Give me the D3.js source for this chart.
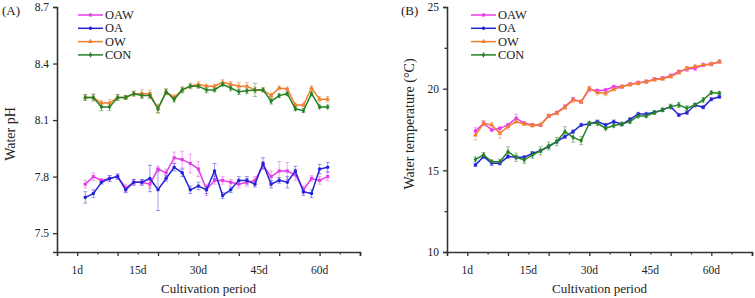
<!DOCTYPE html>
<html>
<head>
<meta charset="utf-8">
<script src="https://cdn.jsdelivr.net/npm/d3@7"></script>
<style>
  body { margin: 0; background: #fff; }
  svg { display: block; font-family: "Liberation Serif", "Times New Roman", serif; }
</style>
</head>
<body>
<svg id="chart" width="755" height="298"></svg>
<script>
//
// Data
//

// sampling day of each point
var days = [2, 4, 6, 8, 10, 12, 14, 16, 18, 20, 22, 24, 26, 28, 30, 32, 34, 36, 38, 40, 42, 44, 46, 48, 50, 52, 54, 56, 58, 60, 62]
var groups = ['OAW', 'OA', 'OW', 'CON']

var xTickLabels = ['1d', '15d', '30d', '45d', '60d']
var xTickDays = [0, 15, 30, 45, 60]
var phTicks = [7.5, 7.8, 8.1, 8.4, 8.7]
var tempTicks = [10, 15, 20, 25]
var tempMinorTicks = [12.5, 17.5, 22.5]

// (A) water pH
var phOAW = [7.76, 7.80, 7.78, 7.79, 7.80, 7.74, 7.77, 7.77, 7.76, 7.84, 7.82, 7.90, 7.89, 7.87, 7.84, 7.73, 7.78, 7.78, 7.77, 7.76, 7.77, 7.78, 7.86, 7.80, 7.83, 7.83, 7.81, 7.73, 7.79, 7.78, 7.80]
var phOA = [7.69, 7.71, 7.77, 7.79, 7.80, 7.73, 7.77, 7.77, 7.79, 7.73, 7.79, 7.85, 7.82, 7.73, 7.75, 7.73, 7.83, 7.70, 7.73, 7.78, 7.78, 7.76, 7.87, 7.76, 7.78, 7.77, 7.83, 7.72, 7.71, 7.84, 7.85]
var phOW = [8.22, 8.22, 8.19, 8.19, 8.22, 8.22, 8.24, 8.24, 8.24, 8.16, 8.25, 8.22, 8.26, 8.28, 8.29, 8.28, 8.28, 8.30, 8.29, 8.28, 8.28, 8.26, 8.26, 8.23, 8.27, 8.265, 8.18, 8.18, 8.27, 8.21, 8.21]
var phCON = [8.22, 8.22, 8.17, 8.17, 8.22, 8.22, 8.24, 8.23, 8.23, 8.16, 8.25, 8.21, 8.26, 8.28, 8.28, 8.26, 8.26, 8.29, 8.27, 8.25, 8.255, 8.26, 8.26, 8.20, 8.23, 8.24, 8.16, 8.15, 8.24, 8.17, 8.17]

var phOAWsd = [0.02, 0.02, 0.01, 0.015, 0.01, 0.02, 0.015, 0.015, 0.02, 0.015, 0.02, 0.03, 0.045, 0.05, 0.04, 0.03, 0.02, 0.02, 0.015, 0.02, 0.02, 0.02, 0.02, 0.03, 0.05, 0.045, 0.03, 0.02, 0.015, 0.02, 0.02]
var phOAsd = [0.03, 0.02, 0.01, 0.015, 0.015, 0.015, 0.015, 0.015, 0.07, 0.11, 0.015, 0.02, 0.02, 0.02, 0.02, 0.02, 0.04, 0.015, 0.015, 0.02, 0.02, 0.015, 0.03, 0.02, 0.015, 0.03, 0.025, 0.02, 0.02, 0.025, 0.025]
var phOWsd = [0.015, 0.02, 0.015, 0.02, 0.015, 0.01, 0.015, 0.02, 0.02, 0.025, 0.015, 0.015, 0.015, 0.015, 0.015, 0.01, 0.01, 0.015, 0.015, 0.02, 0.02, 0.015, 0.01, 0.01, 0.01, 0.01, 0.01, 0.01, 0.01, 0.015, 0.015]
var phCONsd = [0.015, 0.015, 0.02, 0.02, 0.015, 0.01, 0.01, 0.015, 0.015, 0.02, 0.015, 0.015, 0.015, 0.01, 0.01, 0.015, 0.01, 0.01, 0.015, 0.015, 0.015, 0.035, 0.01, 0.015, 0.01, 0.01, 0.01, 0.01, 0.01, 0.01, 0.01]

// (B) water temperature
var tOAW = [17.41, 17.88, 17.47, 17.57, 17.78, 18.19, 17.88, 17.78, 17.78, 18.33, 18.53, 18.90, 19.35, 19.20, 19.96, 19.88, 19.92, 20.12, 20.12, 20.27, 20.37, 20.43, 20.58, 20.64, 20.80, 21.04, 21.20, 21.25, 21.45, 21.51, 21.65]
var tOA = [15.33, 15.84, 15.43, 15.43, 15.84, 15.80, 15.80, 16.04, 16.20, 16.45, 16.76, 17.06, 17.37, 17.78, 17.84, 17.98, 17.78, 17.98, 17.82, 18.12, 18.45, 18.45, 18.55, 18.70, 18.90, 18.39, 18.53, 19.00, 18.86, 19.35, 19.51]
var tOW = [17.16, 17.88, 17.78, 17.27, 17.67, 17.98, 17.84, 17.74, 17.78, 18.33, 18.50, 18.86, 19.30, 19.20, 20.02, 19.76, 19.72, 19.96, 20.12, 20.25, 20.33, 20.43, 20.55, 20.60, 20.74, 20.98, 21.25, 21.35, 21.45, 21.51, 21.65]
var tCON = [15.67, 15.94, 15.53, 15.53, 16.14, 15.80, 15.63, 15.94, 16.20, 16.49, 16.76, 17.37, 17.02, 16.82, 17.88, 17.88, 17.57, 17.74, 17.84, 17.98, 18.33, 18.33, 18.53, 18.70, 18.90, 19.00, 18.80, 19.00, 19.31, 19.76, 19.72]

var tOAWsd = [0.2, 0.15, 0.1, 0.1, 0.1, 0.25, 0.1, 0.1, 0.1, 0.1, 0.1, 0.1, 0.1, 0.1, 0.15, 0.1, 0.1, 0.1, 0.1, 0.1, 0.1, 0.1, 0.1, 0.1, 0.1, 0.1, 0.15, 0.15, 0.1, 0.1, 0.1]
var tOAsd = [0.1, 0.1, 0.15, 0.1, 0.1, 0.1, 0.1, 0.1, 0.1, 0.1, 0.1, 0.1, 0.1, 0.1, 0.1, 0.1, 0.1, 0.1, 0.1, 0.1, 0.1, 0.1, 0.1, 0.1, 0.1, 0.1, 0.1, 0.1, 0.1, 0.1, 0.1]
var tOWsd = [0.3, 0.15, 0.15, 0.3, 0.15, 0.1, 0.1, 0.1, 0.1, 0.1, 0.1, 0.15, 0.15, 0.1, 0.1, 0.15, 0.15, 0.1, 0.1, 0.1, 0.1, 0.1, 0.1, 0.1, 0.1, 0.1, 0.1, 0.1, 0.1, 0.1, 0.1]
var tCONsd = [0.15, 0.15, 0.1, 0.15, 0.3, 0.25, 0.2, 0.2, 0.25, 0.25, 0.25, 0.3, 0.3, 0.25, 0.1, 0.15, 0.1, 0.1, 0.1, 0.1, 0.1, 0.1, 0.1, 0.1, 0.15, 0.15, 0.15, 0.1, 0.15, 0.1, 0.1]

//
// Styles
//

var colors = { OAW: '#e63ee6', OA: '#2424d8', OW: '#f27e2e', CON: '#258226' }
var symbols = { OAW: d3.symbolSquare, OA: d3.symbolCircle, OW: d3.symbolTriangle, CON: d3.symbolDiamond }
var axisColor = '#333'

var svg = d3.select('#chart')

function drawPanel(p) {
  var g = svg.append('g')
  var x = d3.scaleLinear().domain([-5, 70]).range([p.left, p.right])
  var y = d3.scaleLinear().domain(p.yDomain).range([252, 7])

  // axes
  var yAxis = d3.axisLeft(y).tickValues(p.yTicks).tickSize(4).tickPadding(4)
    .tickFormat(p.yFormat)
  var gy = g.append('g').attr('transform', 'translate(' + p.left + ',0)').call(yAxis)
  if (p.yMinor) {
    g.append('g').attr('transform', 'translate(' + p.left + ',0)')
      .call(d3.axisLeft(y).tickValues(p.yMinor).tickSize(2.5).tickFormat(''))
      .select('.domain').remove()
  }
  g.append('g').attr('transform', 'translate(0,252)')
    .call(d3.axisBottom(x).tickValues([0, 10, 20, 30, 40, 50, 60, 70]).tickSize(4).tickFormat(''))
  g.append('g').attr('transform', 'translate(0,252)')
    .call(d3.axisBottom(x).tickValues([5, 15, 25, 35, 45, 55, 65]).tickSize(2.5).tickFormat(''))
    .select('.domain').remove()
  g.selectAll('.domain').attr('stroke', axisColor).attr('stroke-width', 1.6)
  g.selectAll('.tick line').attr('stroke', axisColor).attr('stroke-width', 1.3)
  gy.selectAll('.tick text').attr('font-size', 11.5).attr('font-family', 'Liberation Serif').attr('fill', '#222')

  g.selectAll('.xlab').data(xTickDays).enter().append('text')
    .attr('x', function(d) { return x(d) })
    .attr('y', 274)
    .attr('text-anchor', 'middle')
    .attr('font-size', 11.5)
    .attr('fill', '#222')
    .text(function(d, i) { return xTickLabels[i] })

  g.append('text')
    .attr('x', (p.left + p.right) / 2)
    .attr('y', 293)
    .attr('text-anchor', 'middle')
    .attr('font-size', 13)
    .attr('fill', '#222')
    .text('Cultivation period')

  g.append('text')
    .attr('transform', 'translate(' + p.titleX + ',' + p.titleY + ') rotate(-90)')
    .attr('text-anchor', 'middle')
    .attr('font-size', 14)
    .attr('fill', '#222')
    .text(p.yTitle)

  g.append('text')
    .attr('x', p.tagX)
    .attr('y', 15)
    .attr('font-size', 13)
    .attr('fill', '#222')
    .text(p.tag)

  // error bars
  groups.forEach(function(k) {
    var vals = p.values[k], sds = p.sds[k]
    var eb = g.append('g').attr('stroke', colors[k]).attr('stroke-opacity', 0.45).attr('stroke-width', 1)
    days.forEach(function(d, i) {
      var cx = x(d), y0 = y(vals[i] - sds[i]), y1 = y(vals[i] + sds[i])
      eb.append('line').attr('x1', cx).attr('x2', cx).attr('y1', y0).attr('y2', y1)
      eb.append('line').attr('x1', cx - 2).attr('x2', cx + 2).attr('y1', y0).attr('y2', y0)
      eb.append('line').attr('x1', cx - 2).attr('x2', cx + 2).attr('y1', y1).attr('y2', y1)
    })
  })

  // lines and markers
  var line = d3.line().x(function(d) { return x(d[0]) }).y(function(d) { return y(d[1]) })
  groups.forEach(function(k) {
    var pts = days.map(function(d, i) { return [d, p.values[k][i]] })
    g.append('path')
      .attr('d', line(pts))
      .attr('fill', 'none')
      .attr('stroke', colors[k])
      .attr('stroke-width', 1.5)
    g.selectAll('.m' + k).data(pts).enter().append('path')
      .attr('transform', function(d) { return 'translate(' + x(d[0]) + ',' + y(d[1]) + ')' })
      .attr('d', d3.symbol().type(symbols[k]).size(10))
      .attr('fill', colors[k])
  })

  // legend
  var lg = g.append('g')
  groups.forEach(function(k, i) {
    var ly = 15 + i * 13.3
    lg.append('line').attr('x1', p.legendX).attr('x2', p.legendX + 25)
      .attr('y1', ly).attr('y2', ly).attr('stroke', colors[k]).attr('stroke-width', 1.5)
    lg.append('path').attr('transform', 'translate(' + (p.legendX + 12.5) + ',' + ly + ')')
      .attr('d', d3.symbol().type(symbols[k]).size(10)).attr('fill', colors[k])
    lg.append('text').attr('x', p.legendX + 27).attr('y', ly + 4)
      .attr('font-size', 12.5).attr('fill', '#222').text(k)
  })
}

drawPanel({
  left: 57, right: 360,
  yDomain: [7.4, 8.7], yTicks: phTicks, yFormat: d3.format('.1f'),
  yTitle: 'Water pH', titleX: 15, titleY: 134,
  tag: '(A)', tagX: 2, legendX: 78,
  values: { OAW: phOAW, OA: phOA, OW: phOW, CON: phCON },
  sds: { OAW: phOAWsd, OA: phOAsd, OW: phOWsd, CON: phCONsd }
})

drawPanel({
  left: 447, right: 752,
  yDomain: [10, 25], yTicks: tempTicks, yMinor: tempMinorTicks, yFormat: d3.format('d'),
  yTitle: 'Water temperature (\u00B0C)', titleX: 414, titleY: 124,
  tag: '(B)', tagX: 401, legendX: 471,
  values: { OAW: tOAW, OA: tOA, OW: tOW, CON: tCON },
  sds: { OAW: tOAWsd, OA: tOAsd, OW: tOWsd, CON: tCONsd }
})
</script>
</body>
</html>
